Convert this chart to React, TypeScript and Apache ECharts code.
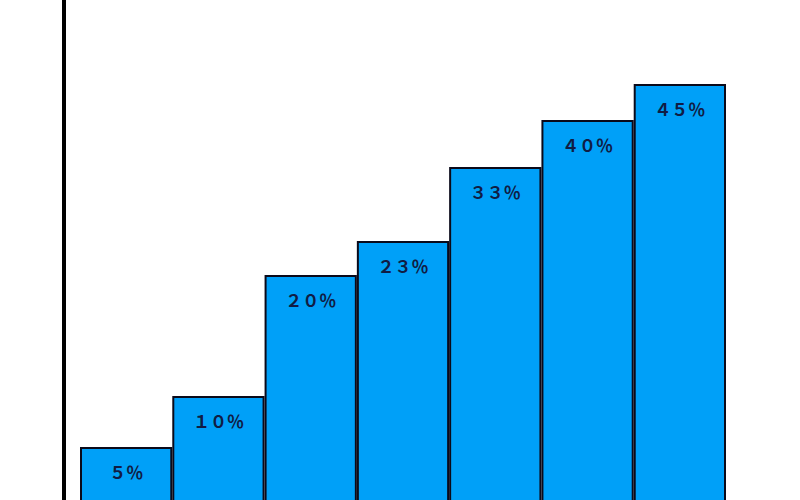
import React, { useEffect, useRef } from "react";
import * as echarts from "echarts";

const categories = ["A", "B", "C", "D", "E", "F", "G"];
const barLabels = ["５％", "１０％", "２０％", "２３％", "３３％", "４０％", "４５％"];
const barHeights = [63, 114, 235, 269, 343, 390, 426];

export default function App() {
  const ref = useRef<HTMLDivElement>(null);
  useEffect(() => {
    const chart = echarts.init(ref.current!, null, { renderer: "svg" });
    chart.setOption({
      animation: false,
      backgroundColor: "#ffffff",
      grid: { left: 80, right: 74, top: 0, bottom: 10 },
      xAxis: {
        type: "category",
        data: categories,
        show: false,
      },
      yAxis: {
        type: "value",
        min: 0,
        max: 510,
        offset: 16,
        axisLine: { show: true, lineStyle: { color: "#000", width: 4 } },
        axisTick: { show: false },
        axisLabel: { show: false },
        splitLine: { show: false },
      },
      series: [
        {
          type: "bar",
          data: barHeights,
          barCategoryGap: 0,
          itemStyle: { color: "#00a0f8", borderColor: "#0a0a1a", borderWidth: 2 },
          label: {
            show: true,
            position: "insideTop",
            distance: 16,
            formatter: (p: any) => barLabels[p.dataIndex],
            color: "#101c44",
            fontSize: 17,
            fontWeight: "bold",
            fontFamily: "Noto Sans CJK JP",
          },
        },
      ],
    });
    return () => chart.dispose();
  }, []);
  return (
    <div
      ref={ref}
      style={{ position: "fixed", left: 0, top: 0, width: 800, height: 520 }}
    />
  );
}
